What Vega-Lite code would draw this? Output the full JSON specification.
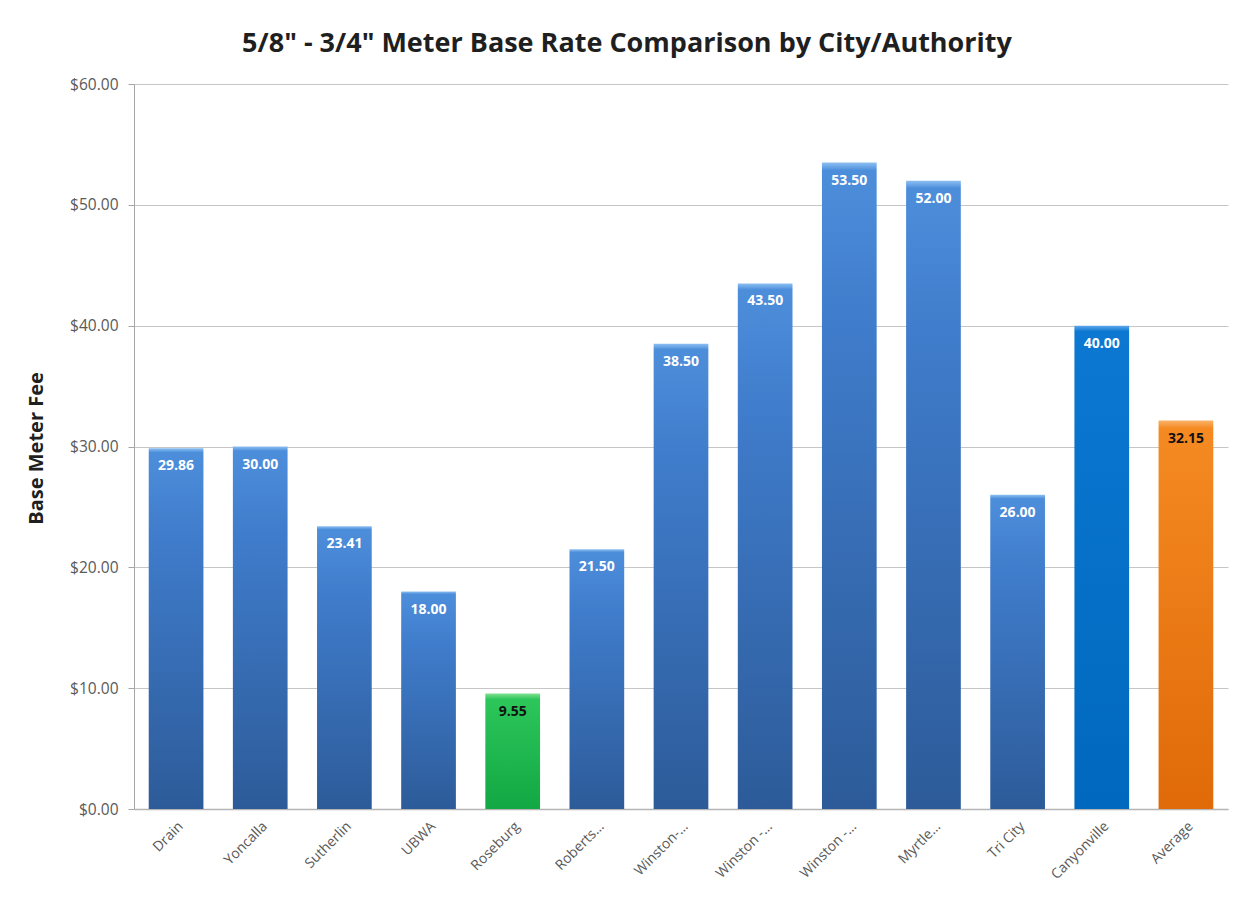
{
  "$schema": "https://vega.github.io/schema/vega-lite/v6.json",
  "width": 1094,
  "height": 725,
  "autosize": {"type": "none"},
  "padding": {"left": 134, "top": 84, "right": 16, "bottom": 95},
  "background": "white",
  "title": {
    "text": "5/8\" - 3/4\" Meter Base Rate Comparison by City/Authority",
    "font": "Open Sans",
    "fontSize": 27,
    "fontWeight": "bold",
    "color": "#1f1f1f",
    "anchor": "middle",
    "dx": -54,
    "offset": 19
  },
  "config": {"view": {"stroke": null}},
  "data": {
    "values": [
      {"city": "Drain", "fee": 29.86},
      {"city": "Yoncalla", "fee": 30.00},
      {"city": "Sutherlin", "fee": 23.41},
      {"city": "UBWA", "fee": 18.00},
      {"city": "Roseburg", "fee": 9.55},
      {"city": "Roberts…", "fee": 21.50},
      {"city": "Winston-…", "fee": 38.50},
      {"city": "Winston -…", "fee": 43.50},
      {"city": "Winston -\u200b…", "fee": 53.50},
      {"city": "Myrtle…", "fee": 52.00},
      {"city": "Tri City", "fee": 26.00},
      {"city": "Canyonville", "fee": 40.00},
      {"city": "Average", "fee": 32.15}
    ]
  },
  "encoding": {
    "x": {
      "field": "city",
      "type": "nominal",
      "sort": ["Drain", "Yoncalla", "Sutherlin", "UBWA", "Roseburg", "Roberts…", "Winston-…", "Winston -…", "Winston -\u200b…", "Myrtle…", "Tri City", "Canyonville", "Average"],
      "scale": {"paddingInner": 0.35, "paddingOuter": 0.175},
      "axis": {
        "title": null,
        "labelAngle": -45,
        "labelFont": "Open Sans",
        "labelFontSize": 14,
        "labelColor": "#595959",
        "ticks": false,
        "labelPadding": 10,
        "domainColor": "#b5b5b5",
        "domainWidth": 1.5
      }
    },
    "y": {
      "field": "fee",
      "type": "quantitative",
      "scale": {"domain": [0, 60], "nice": false},
      "axis": {
        "title": "Base Meter Fee",
        "titleFont": "Open Sans",
        "titleFontSize": 20,
        "titleFontWeight": "bold",
        "titleColor": "#1f1f1f",
        "titleX": -88,
        "titleY": 364,
        "titleAlign": "center",
        "titleAngle": -90,
        "values": [0, 10, 20, 30, 40, 50, 60],
        "format": "$.2f",
        "labelFont": "Open Sans",
        "labelFontSize": 15.5,
        "labelColor": "#595959",
        "labelPadding": 10,
        "tickColor": "#a6a6a6",
        "tickSize": 6,
        "domainColor": "#a6a6a6",
        "gridColor": "#c6c6c6",
        "gridWidth": 1
      }
    }
  },
  "layer": [
    {
      "transform": [{"filter": "indexof(['Roseburg', 'Canyonville', 'Average'], datum.city) < 0"}],
      "mark": {
        "type": "bar",
        "color": {
          "gradient": "linear", "x1": 0, "y1": 0, "x2": 0, "y2": 1,
          "stops": [
            {"offset": 0, "color": "#8cc0f2"},
            {"offset": 0.012, "color": "#4d8edb"},
            {"offset": 0.25, "color": "#3f7ccb"},
            {"offset": 1, "color": "#2d5b99"}
          ]
        }
      }
    },
    {
      "transform": [{"filter": "datum.city === 'Roseburg'"}],
      "mark": {
        "type": "bar",
        "color": {
          "gradient": "linear", "x1": 0, "y1": 0, "x2": 0, "y2": 1,
          "stops": [
            {"offset": 0, "color": "#7fe08f"},
            {"offset": 0.05, "color": "#2cc65a"},
            {"offset": 1, "color": "#12a844"}
          ]
        }
      }
    },
    {
      "transform": [{"filter": "datum.city === 'Canyonville'"}],
      "mark": {
        "type": "bar",
        "color": {
          "gradient": "linear", "x1": 0, "y1": 0, "x2": 0, "y2": 1,
          "stops": [
            {"offset": 0, "color": "#5fa8ea"},
            {"offset": 0.012, "color": "#0c78d2"},
            {"offset": 1, "color": "#0068be"}
          ]
        }
      }
    },
    {
      "transform": [{"filter": "datum.city === 'Average'"}],
      "mark": {
        "type": "bar",
        "color": {
          "gradient": "linear", "x1": 0, "y1": 0, "x2": 0, "y2": 1,
          "stops": [
            {"offset": 0, "color": "#f9b36a"},
            {"offset": 0.02, "color": "#f58a22"},
            {"offset": 1, "color": "#e06a08"}
          ]
        }
      }
    },
    {
      "mark": {
        "type": "text",
        "dy": 18,
        "baseline": "middle",
        "font": "Open Sans",
        "fontSize": 14,
        "fontWeight": "bold"
      },
      "encoding": {
        "text": {"field": "fee", "type": "quantitative", "format": ".2f"},
        "color": {
          "condition": {"test": "datum.city === 'Roseburg' || datum.city === 'Average'", "value": "#111111"},
          "value": "#ffffff"
        }
      }
    }
  ]
}
